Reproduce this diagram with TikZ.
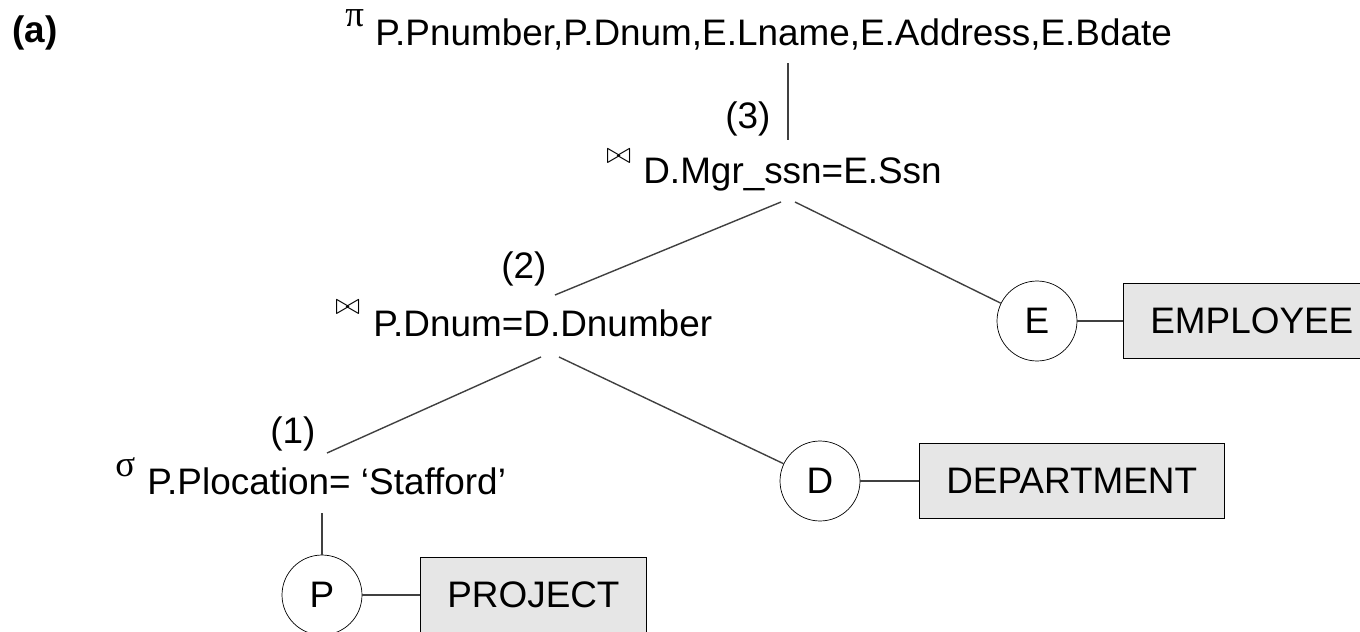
\documentclass[tikz,border=0pt]{standalone}
\usepackage{fontspec}
\setmainfont{Liberation Sans}
\newfontfamily\symfont{Liberation Serif}
\definecolor{boxgray}{RGB}{230,230,230}

\tikzset{
  optext/.style={anchor=base west, inner sep=0pt},
  opsym/.style={anchor=base west, inner sep=0pt, font=\fontsize{21}{24}\selectfont\symfont},
  joinsym/.style={anchor=base west, inner sep=0pt, font=\fontsize{18}{20}\selectfont},
  steplbl/.style={anchor=base west, inner sep=0pt},
  relvar/.style={draw, circle, minimum size=1.6cm, inner sep=0pt},
  relbox/.style={draw, fill=boxgray, anchor=west, minimum height=1.5cm, inner xsep=0.54cm},
  edge/.style={line width=0.8pt, black!75}
}

\begin{document}
\begin{tikzpicture}[x=0.02cm, y=-0.02cm, font=\fontsize{21}{24}\selectfont]
  \useasboundingbox (0,0) rectangle (1360,632);
  \node[optext, font=\fontsize{21}{24}\selectfont\bfseries] (tag) at (12,42) {(a)};

  % operator nodes
  \node[opsym] (pisym) at (345,27) {π};
  \node[optext] (proj) at (375,46) {P.Pnumber,P.Dnum,E.Lname,E.Address,E.Bdate};
  \node[steplbl] (s3) at (725,128) {(3)};
  \node[joinsym] (j3sym) at (606,163) {$\bowtie$};
  \node[optext] (join3) at (643,183) {D.Mgr\_ssn=E.Ssn};
  \node[steplbl] (s2) at (501,278) {(2)};
  \node[joinsym] (j2sym) at (335,314) {$\bowtie$};
  \node[optext] (join2) at (373,336) {P.Dnum=D.Dnumber};
  \node[steplbl] (s1) at (270,443) {(1)};
  \node[opsym] (selsym) at (115,476) {σ};
  \node[optext] (sel) at (147,494) {P.Plocation= `Stafford'};

  % relations
  \node[relvar] (E) at (1037,321) {E};
  \node[relbox] (emp) at (1123,321) {EMPLOYEE};
  \node[relvar] (D) at (820,481) {D};
  \node[relbox] (dept) at (919,481) {DEPARTMENT};
  \node[relvar] (P) at (322,595) {P};
  \node[relbox] (projrel) at (420,595) {PROJECT};

  % edge ends
  \coordinate (a3) at (788,63);
  \coordinate (b3) at (788,140);
  \coordinate (c3l) at (781,202);
  \coordinate (c3r) at (795,202);
  \coordinate (c2u) at (555,295);
  \coordinate (c2l) at (541,357);
  \coordinate (c2r) at (559,357);
  \coordinate (c1u) at (327,453);
  \coordinate (c1d) at (322,513);

  \draw[edge] (a3) -- (b3);
  \draw[edge] (c3l) -- (c2u);
  \draw[edge] (c3r) -- (E);
  \draw[edge] (c2l) -- (c1u);
  \draw[edge] (c2r) -- (D);
  \draw[edge] (c1d) -- (P);
  \draw[edge] (E) -- (emp);
  \draw[edge] (D) -- (dept);
  \draw[edge] (P) -- (projrel);
\end{tikzpicture}
\end{document}
